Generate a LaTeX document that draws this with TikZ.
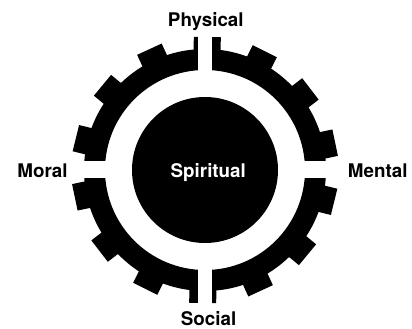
\documentclass[tikz,border=0pt]{standalone}
\usepackage{fontspec}
\setmainfont{TeX Gyre Heros}
\usepackage{tikz}
\usetikzlibrary{positioning}

\begin{document}
\begin{tikzpicture}[
    x=1pt, y=1pt,
    label/.style={font=\fontsize{18.8}{20}\selectfont\bfseries, text=black,
        anchor=base, inner sep=0pt},
    core/.style={circle, fill=black, minimum size=146pt, inner sep=0pt},
    tooth/.style={fill=black},
    cut/.style={fill=white}
]
\useasboundingbox (-205,-159) rectangle (207,170);

% Ring of the gear
\fill[black, even odd rule] (0,0) circle (121) (0,0) circle (100);

% Teeth, 14 round the ring
\foreach \k in {0,...,13}{\fill[tooth, rotate=89+\k*25.714] (114,-13.5) rectangle (133,13.5);}

% Gaps that split the ring in four
\fill[cut] (-7,90) rectangle (7,140);
\fill[cut] (-7,-90) rectangle (7,-140);
\fill[cut] (-140,-8.5) rectangle (-90,8.5);
\fill[cut] (90,-8.5) rectangle (140,8.5);

% Centre
\node[core] (core) at (0,0) {};
\node[label, text=white] (spiritual) at (3.3,-8) {Spiritual};

% Labels round the gear
\node[label] (physical) at (0.8,143) {Physical};
\node[label] (mental) at (172.8,-7.3) {Mental};
\node[label] (social) at (3.6,-155.7) {Social};
\node[label] (moral) at (-162.5,-7.3) {Moral};

\end{tikzpicture}
\end{document}
